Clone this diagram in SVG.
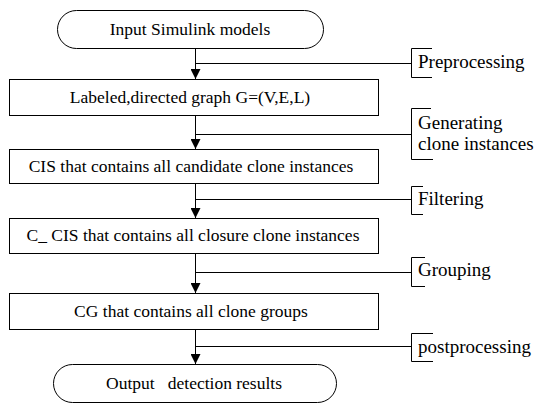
<svg xmlns="http://www.w3.org/2000/svg" width="536" height="403" viewBox="0 0 536 403">
<defs>
<marker id="arr" markerWidth="10" markerHeight="10" refX="10" refY="5" orient="auto" markerUnits="userSpaceOnUse">
<path d="M0,0 L10,5 L0,10 Z" fill="#000"/>
</marker>
<style>
.node{fill:#fff;stroke:#000;stroke-width:1}
text{font-family:'Liberation Serif','Times New Roman',serif;font-size:17.5px;fill:#000}
.t{text-anchor:middle;white-space:pre}
.l{font-size:19px}
.c{fill:none;stroke:#000;stroke-width:1}
</style>
</defs>
<rect width="536" height="403" fill="#fff"/>
<g id="connectors">
<path class="c" d="M195.5,48 V79" marker-end="url(#arr)"/>
<path class="c" d="M195.5,115 V149" marker-end="url(#arr)"/>
<path class="c" d="M195.5,183 V218" marker-end="url(#arr)"/>
<path class="c" d="M195.5,253 V293" marker-end="url(#arr)"/>
<path class="c" d="M195.5,329 V364" marker-end="url(#arr)"/>
<path class="c" d="M195.5,63.5 H411.5"/>
<path class="c" d="M195.5,134.5 H411.5"/>
<path class="c" d="M195.5,199.5 H411.5"/>
<path class="c" d="M195.5,272.5 H411.5"/>
<path class="c" d="M195.5,346.5 H411.5"/>
</g>
<g id="n_input">
<rect class="node" x="57.5" y="10.5" width="266" height="38" rx="19" ry="19"/>
<text class="t" x="190" y="35">Input Simulink models</text>
</g>
<g id="n_graph">
<rect class="node" x="9.5" y="79.5" width="369" height="36"/>
<text class="t" x="190" y="103">Labeled,directed graph G=(V,E,L)</text>
</g>
<g id="n_cis">
<rect class="node" x="9.5" y="149.5" width="369" height="34"/>
<text class="t" x="191" y="172">CIS that contains all candidate clone instances</text>
</g>
<g id="n_ccis">
<rect class="node" x="9.5" y="218.5" width="369" height="35"/>
<text class="t" x="193" y="241">C_ CIS that contains all closure clone instances</text>
</g>
<g id="n_cg">
<rect class="node" x="9.5" y="293.5" width="369" height="36"/>
<text class="t" x="191" y="317">CG that contains all clone groups</text>
</g>
<g id="n_output">
<rect class="node" x="53.5" y="364.5" width="283" height="38" rx="19" ry="19"/>
<text class="t" x="194" y="389">Output   detection results</text>
</g>
<g id="l_pre">
<path class="c" d="M432,48.5 H411.5 V77.5 H432"/>
<text class="l" x="418" y="68">Preprocessing</text>
</g>
<g id="l_gen">
<path class="c" d="M431,108.5 H411.5 V159.5 H433"/>
<text class="l" x="418" y="129">Generating</text>
<text class="l" x="418" y="150">clone instances</text>
</g>
<g id="l_filter">
<path class="c" d="M423,186.5 H411.5 V214.5 H423"/>
<text class="l" x="418" y="205">Filtering</text>
</g>
<g id="l_group">
<path class="c" d="M425,257.5 H411.5 V286.5 H425"/>
<text class="l" x="418" y="276">Grouping</text>
</g>
<g id="l_post">
<path class="c" d="M433,333.5 H411.5 V361.5 H433"/>
<text class="l" x="418" y="353">postprocessing</text>
</g>
</svg>
